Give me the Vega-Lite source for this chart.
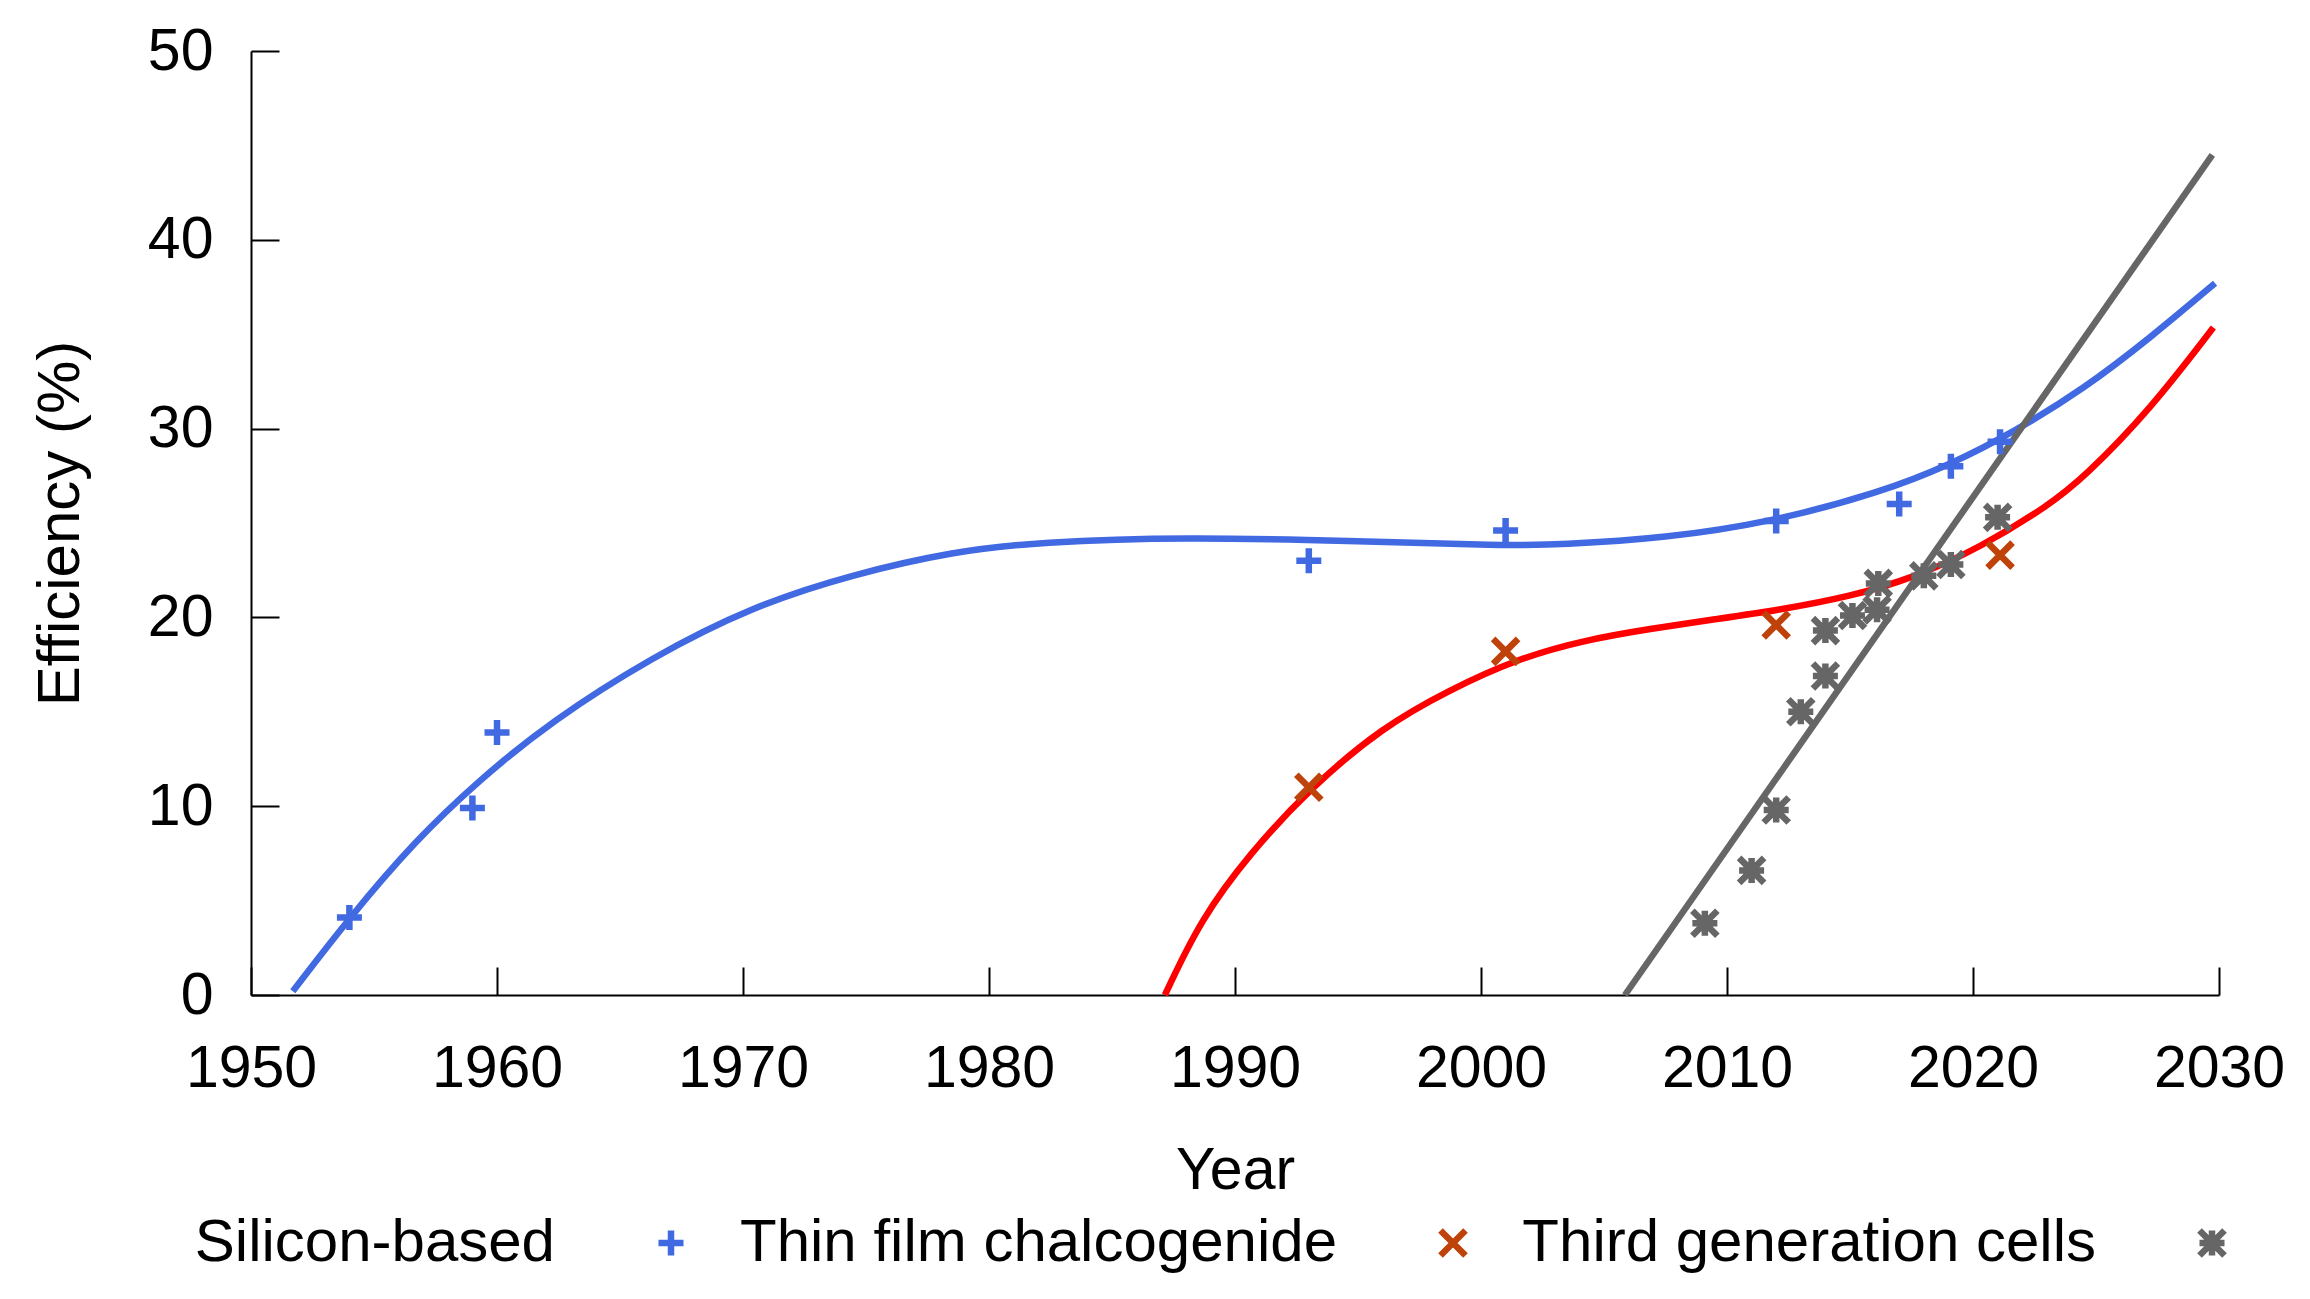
{
  "$schema": "https://vega.github.io/schema/vega-lite/v6.json",
  "width": 1968,
  "height": 944,
  "autosize": {"type": "none"},
  "padding": {"left": 251, "top": 51, "right": 91, "bottom": 304},
  "background": "white",
  "config": {
    "view": {"stroke": null},
    "font": "Liberation Sans",
    "axis": {"grid": false, "domainColor": "black", "domainWidth": 2, "tickColor": "black", "tickWidth": 2, "labelColor": "black", "titleColor": "black", "labelFont": "Liberation Sans", "titleFont": "Liberation Sans", "titleFontWeight": "normal"}
  },
  "datasets": {
    "points": [
      {"series": "Silicon-based", "year": 1954.0, "eff": 4.1},
      {"series": "Silicon-based", "year": 1959.0, "eff": 9.9},
      {"series": "Silicon-based", "year": 1960.0, "eff": 13.9},
      {"series": "Silicon-based", "year": 1993.0, "eff": 23.0},
      {"series": "Silicon-based", "year": 2001.0, "eff": 24.6},
      {"series": "Silicon-based", "year": 2012.0, "eff": 25.1},
      {"series": "Silicon-based", "year": 2017.0, "eff": 26.0},
      {"series": "Silicon-based", "year": 2019.1, "eff": 28.0},
      {"series": "Silicon-based", "year": 2021.1, "eff": 29.3},
      {"series": "Thin film chalcogenide", "year": 1993.0, "eff": 11.0},
      {"series": "Thin film chalcogenide", "year": 2001.0, "eff": 18.2},
      {"series": "Thin film chalcogenide", "year": 2012.0, "eff": 19.6},
      {"series": "Thin film chalcogenide", "year": 2021.1, "eff": 23.3},
      {"series": "Third generation cells", "year": 2009.1, "eff": 3.8},
      {"series": "Third generation cells", "year": 2011.0, "eff": 6.6},
      {"series": "Third generation cells", "year": 2012.0, "eff": 9.8},
      {"series": "Third generation cells", "year": 2013.0, "eff": 15.0},
      {"series": "Third generation cells", "year": 2014.0, "eff": 16.9},
      {"series": "Third generation cells", "year": 2014.0, "eff": 19.3},
      {"series": "Third generation cells", "year": 2015.1, "eff": 20.1},
      {"series": "Third generation cells", "year": 2016.1, "eff": 20.4},
      {"series": "Third generation cells", "year": 2016.15, "eff": 21.8},
      {"series": "Third generation cells", "year": 2018.0, "eff": 22.2},
      {"series": "Third generation cells", "year": 2019.1, "eff": 22.8},
      {"series": "Third generation cells", "year": 2021.0, "eff": 25.3}
    ],
    "fits": [
      {"curve": "Silicon fit", "year": 1951.7, "eff": 0.2},
      {"curve": "Silicon fit", "year": 1954.0, "eff": 4.1},
      {"curve": "Silicon fit", "year": 1956.7, "eff": 8.2},
      {"curve": "Silicon fit", "year": 1959.2, "eff": 11.3},
      {"curve": "Silicon fit", "year": 1962.2, "eff": 14.5},
      {"curve": "Silicon fit", "year": 1966.3, "eff": 17.9},
      {"curve": "Silicon fit", "year": 1970.4, "eff": 20.6},
      {"curve": "Silicon fit", "year": 1974.5, "eff": 22.3},
      {"curve": "Silicon fit", "year": 1978.6, "eff": 23.5},
      {"curve": "Silicon fit", "year": 1982.0, "eff": 24.0},
      {"curve": "Silicon fit", "year": 1988.1, "eff": 24.25},
      {"curve": "Silicon fit", "year": 1994.6, "eff": 24.05},
      {"curve": "Silicon fit", "year": 2001.0, "eff": 23.8},
      {"curve": "Silicon fit", "year": 2003.2, "eff": 23.85},
      {"curve": "Silicon fit", "year": 2007.5, "eff": 24.2},
      {"curve": "Silicon fit", "year": 2011.8, "eff": 25.05},
      {"curve": "Silicon fit", "year": 2016.2, "eff": 26.6},
      {"curve": "Silicon fit", "year": 2019.1, "eff": 28.1},
      {"curve": "Silicon fit", "year": 2021.7, "eff": 29.85},
      {"curve": "Silicon fit", "year": 2024.5, "eff": 32.1},
      {"curve": "Silicon fit", "year": 2027.2, "eff": 34.8},
      {"curve": "Silicon fit", "year": 2029.84, "eff": 37.7},
      {"curve": "Chalcogenide fit", "year": 1987.15, "eff": 0.0},
      {"curve": "Chalcogenide fit", "year": 1988.6, "eff": 4.0},
      {"curve": "Chalcogenide fit", "year": 1990.6, "eff": 7.5},
      {"curve": "Chalcogenide fit", "year": 1993.05, "eff": 10.95},
      {"curve": "Chalcogenide fit", "year": 1996.0, "eff": 14.2},
      {"curve": "Chalcogenide fit", "year": 1998.7, "eff": 16.15},
      {"curve": "Chalcogenide fit", "year": 2001.45, "eff": 17.8},
      {"curve": "Chalcogenide fit", "year": 2004.2, "eff": 18.8},
      {"curve": "Chalcogenide fit", "year": 2006.9, "eff": 19.4},
      {"curve": "Chalcogenide fit", "year": 2009.5, "eff": 19.9},
      {"curve": "Chalcogenide fit", "year": 2012.15, "eff": 20.4},
      {"curve": "Chalcogenide fit", "year": 2015.0, "eff": 21.1},
      {"curve": "Chalcogenide fit", "year": 2017.6, "eff": 22.1},
      {"curve": "Chalcogenide fit", "year": 2020.3, "eff": 23.7},
      {"curve": "Chalcogenide fit", "year": 2023.1, "eff": 25.95},
      {"curve": "Chalcogenide fit", "year": 2024.5, "eff": 27.4},
      {"curve": "Chalcogenide fit", "year": 2027.2, "eff": 31.0},
      {"curve": "Chalcogenide fit", "year": 2029.77, "eff": 35.35},
      {"curve": "Third generation fit", "year": 2005.85, "eff": 0.0},
      {"curve": "Third generation fit", "year": 2029.73, "eff": 44.5}
    ]
  },
  "layer": [
    {
      "data": {"name": "fits"},
      "mark": {"type": "line", "interpolate": "basis", "strokeWidth": 6.5},
      "encoding": {
        "x": {"field": "year", "type": "quantitative", "scale": {"domain": [1950, 2030], "nice": false, "zero": false},
          "axis": {"values": [1950, 1960, 1970, 1980, 1990, 2000, 2010, 2020, 2030], "format": "d", "labelFontSize": 59, "labelPadding": 72, "labelDx": 5, "tickSize": -28, "labelFlush": false, "labelOverlap": false, "title": "Year", "titleFontSize": 59, "titleX": 984, "titleY": 193, "titleBaseline": "alphabetic", "titleAlign": "center"}},
        "y": {"field": "eff", "type": "quantitative", "scale": {"domain": [0, 50], "nice": false},
          "axis": {"values": [0, 10, 20, 30, 40, 50], "labelFontSize": 59, "labelPadding": 66, "tickSize": -28, "labelOverlap": false, "labelFlush": false, "title": "Efficiency (%)", "titleFontSize": 60, "titleX": -173, "titleY": 472, "titleAngle": 270, "titleBaseline": "alphabetic", "titleAlign": "center"}},
        "stroke": {"field": "curve", "type": "nominal", "scale": {"domain": ["Silicon fit", "Chalcogenide fit", "Third generation fit"], "range": ["#4169E1", "#FF0000", "#666666"]}, "legend": null}
      }
    },
    {
      "data": {"name": "points"},
      "mark": {"type": "point", "filled": false, "strokeWidth": 6.5, "size": 625, "opacity": 1},
      "encoding": {
        "x": {"field": "year", "type": "quantitative"},
        "y": {"field": "eff", "type": "quantitative"},
        "color": {"field": "series", "type": "nominal", "scale": {"domain": ["Silicon-based", "Thin film chalcogenide", "Third generation cells"], "range": ["#4169E1", "#BF420A", "#666666"]},
          "legend": {"title": null, "orient": "none", "direction": "horizontal", "columns": 3, "legendX": 390, "legendY": 1162, "labelFont": "Liberation Sans", "labelFontSize": 60, "labelColor": "black", "labelAlign": "right", "labelBaseline": "middle", "labelOffset": -146, "labelLimit": 2000, "columnPadding": 43, "symbolSize": 625, "symbolStrokeWidth": 6.5, "padding": 0}},
        "shape": {"field": "series", "type": "nominal", "scale": {"domain": ["Silicon-based", "Thin film chalcogenide", "Third generation cells"], "range": ["M-1,0H1M0,-1V1", "M-1,-1L1,1M-1,1L1,-1", "M-1,-1L1,1M-1,1L1,-1M0,-1V1M-1,0H1"]}}
      }
    }
  ]
}
